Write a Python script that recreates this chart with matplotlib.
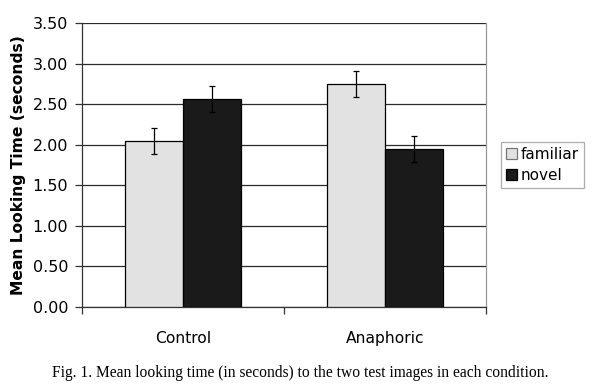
import matplotlib
matplotlib.use("Agg")
import matplotlib.pyplot as plt
import numpy as np

categories = ["Control", "Anaphoric"]
series = ["familiar", "novel"]
familiar = [2.04, 2.75]
novel = [2.56, 1.95]
familiar_err = [0.16, 0.16]
novel_err = [0.16, 0.16]
yticks = [0.0, 0.5, 1.0, 1.5, 2.0, 2.5, 3.0, 3.5]

fig = plt.figure(figsize=(6.0, 3.87), dpi=100)
ax = fig.add_axes([82/600, 1-307/387, (486-82)/600, (307-23)/387])

x = np.arange(len(categories))
w = 0.287
ekw = dict(ecolor="black", elinewidth=0.9, capsize=2.2, capthick=0.9)
ax.bar(x - w/2, familiar, w, yerr=familiar_err, color="#e2e2e2", edgecolor="black",
       linewidth=0.9, label=series[0], error_kw=ekw, zorder=3)
ax.bar(x + w/2, novel, w, yerr=novel_err, color="#1a1a1a", edgecolor="black",
       linewidth=0.9, label=series[1], error_kw=ekw, zorder=3)

ax.set_xlim(-0.5, len(categories) - 0.5)
ax.set_ylim(0, 3.5)
ax.set_yticks(yticks)
ax.set_yticklabels([f"{v:.2f}" for v in yticks], fontsize=11.5)
ax.set_xticks(x)
ax.set_xticklabels(categories, fontsize=11.2)
ax.tick_params(axis="x", length=0, pad=17)
ax.set_xticks([-0.5, 0.5, 1.5], minor=True)
ax.tick_params(axis="x", which="minor", length=5, width=0.9, color="#333333")
ax.tick_params(axis="y", length=5, width=0.9, color="#333333", pad=5)

ax.yaxis.grid(True, color="#2a2a2a", linewidth=0.9, zorder=0)
ax.set_axisbelow(True)
for s in ["left", "bottom"]:
    ax.spines[s].set_color("#333333")
    ax.spines[s].set_linewidth(0.9)
ax.spines["right"].set_color("#999999")
ax.spines["right"].set_linewidth(0.9)
ax.spines["top"].set_visible(False)

ax.set_ylabel("Mean Looking Time (seconds)", fontsize=11.2, fontweight="bold", labelpad=5)

leg = fig.legend(loc="upper left", bbox_to_anchor=(501/600, 1-142/387), fontsize=11,
                 frameon=True, fancybox=False, edgecolor="#999999",
                 handlelength=0.75, handleheight=0.75, handletextpad=0.25,
                 borderpad=0.3, labelspacing=0.42, borderaxespad=0)
leg.get_frame().set_linewidth(0.9)
leg.legend_handles[0].set_edgecolor("#777777")

fig.text(0.5, 1-373/387, "Fig. 1. Mean looking time (in seconds) to the two test images in each condition.",
         ha="center", va="center", fontsize=11.2, family="Liberation Serif")

fig.savefig("out.png", dpi=100)
